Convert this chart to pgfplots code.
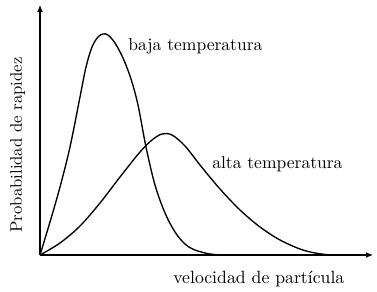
\documentclass[border=0pt]{standalone}
\usepackage{pgfplots}
\pgfplotsset{compat=1.18}
\usetikzlibrary{arrows.meta}
\begin{document}
\begin{tikzpicture}[x=1bp,y=1bp]
\path[use as bounding box] (0,0) rectangle (377,292);
\begin{axis}[
  at={(40bp,37bp)}, anchor=south west,
  scale only axis, width=333bp, height=250bp,
  xmin=0, xmax=333, ymin=0, ymax=250,
  axis lines=left,
  axis line style={line width=1.2bp, -{Latex[length=7bp,width=6bp]}},
  xtick=\empty, ytick=\empty,
  clip=false,
]
\addplot[black, line width=1.35bp, smooth, tension=0.55, mark=none] coordinates {(0,0) (10,33) (20,68) (30,108) (40,158) (46,188) (52,208) (58,218) (63,221) (68,220) (75,212) (83,197) (91,176) (98,150) (106,108) (115,70) (125,42) (135,23) (145,11) (155,5) (170,1) (185,0)};
\addplot[black, line width=1.35bp, smooth, tension=0.55, mark=none] coordinates {(0,0) (20,12) (40,29) (60,52) (80,78) (100,103) (112,115) (122,121) (132,120) (145,109) (160,90) (180,66) (200,45) (220,28) (240,15) (260,6) (275,2) (290,0)};
\node[anchor=base west, inner sep=0pt, scale=1.76, font=\fontsize{10}{12}\selectfont] at (88,205) {baja temperatura};
\node[anchor=base west, inner sep=0pt, scale=1.76, font=\fontsize{10}{12}\selectfont] at (172,87) {alta temperatura};
\node[anchor=base west, inner sep=0pt, scale=1.78, font=\fontsize{10}{12}\selectfont] at (133,-28) {velocidad de partícula};
\node[rotate=90, anchor=base, inner sep=0pt, scale=1.68, font=\fontsize{10}{12}\selectfont] at (-18,110) {Probabilidad de rapidez};
\end{axis}
\end{tikzpicture}
\end{document}
